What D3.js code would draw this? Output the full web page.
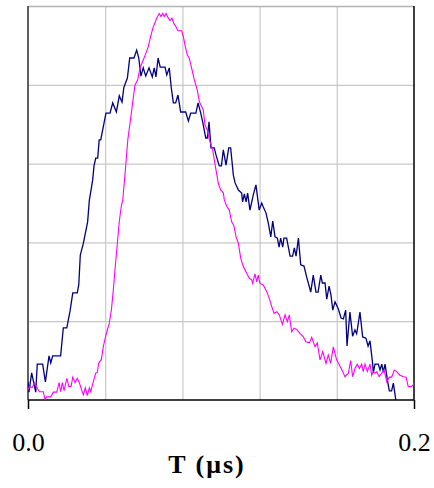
<!DOCTYPE html>
<html>
<head>
<meta charset="utf-8">
<script src="https://cdn.jsdelivr.net/npm/d3@7"></script>
<style>
  body { margin: 0; background: #fff; }
  #chart svg { display: block; }
  .grid line { stroke: #c8c8c8; stroke-width: 1.2; }
  .grid path { display: none; }
  .xaxis path { display: none; }
  .xaxis line { stroke: #000; stroke-width: 1.5; }
  .xaxis text { font-family: "Liberation Serif", serif; font-size: 26px; fill: #000; }
</style>
</head>
<body>
<div id="chart"></div>
<script>
// pulse waveforms, time in microseconds, amplitude normalised to full scale
const navyT = [0, 0.0005, 0.0019, 0.0040, 0.0048, 0.0076, 0.0090, 0.0109, 0.0118, 0.0128,
  0.0169, 0.0183, 0.0201, 0.0218, 0.0232, 0.0255, 0.0263, 0.0271, 0.0287, 0.0309,
  0.0318, 0.0325, 0.0335, 0.0342, 0.0351, 0.0361, 0.0369, 0.0377, 0.0390, 0.0404,
  0.0425, 0.0439, 0.0458, 0.0473, 0.0487, 0.0497, 0.0515, 0.0527, 0.0549, 0.0563,
  0.0574, 0.0585, 0.0597, 0.0610, 0.0627, 0.0644, 0.0654, 0.0663, 0.0674, 0.0685,
  0.0710, 0.0719, 0.0732, 0.0742, 0.0753, 0.0765, 0.0777, 0.0791, 0.0817, 0.0831,
  0.0843, 0.0870, 0.0881, 0.0895, 0.0905, 0.0921, 0.0929, 0.0938, 0.0948, 0.0965,
  0.0974, 0.0991, 0.1002, 0.1012, 0.1026, 0.1040, 0.1050, 0.1064, 0.1073, 0.1090,
  0.1107, 0.1112, 0.1121, 0.1130, 0.1138, 0.1150, 0.1167, 0.1181, 0.1198, 0.1211,
  0.1219, 0.1233, 0.1245, 0.1258, 0.1268, 0.1280, 0.1292, 0.1301, 0.1309, 0.1320,
  0.1326, 0.1340, 0.1358, 0.1371, 0.1380, 0.1389, 0.1401, 0.1413, 0.1430, 0.1444,
  0.1465, 0.1478, 0.1492, 0.1503, 0.1517, 0.1525, 0.1539, 0.1548, 0.1560, 0.1570,
  0.1579, 0.1591, 0.1608, 0.1622, 0.1634, 0.1646, 0.1653, 0.1668, 0.1682, 0.1694,
  0.1703, 0.1720, 0.1734, 0.1751, 0.1762, 0.1772, 0.1786, 0.1789, 0.1798, 0.1815,
  0.1824, 0.1833, 0.1841, 0.1850, 0.1862, 0.1872, 0.1884, 0.1893, 0.1907];
const navyV = [0.046, 0.020, 0.069, 0.020, 0.091, 0.091, 0.046, 0.112, 0.094, 0.112,
  0.112, 0.183, 0.183, 0.226, 0.272, 0.272, 0.292, 0.368, 0.398, 0.452,
  0.508, 0.528, 0.558, 0.594, 0.614, 0.614, 0.660, 0.660, 0.693, 0.728,
  0.728, 0.754, 0.731, 0.772, 0.756, 0.794, 0.817, 0.868, 0.868, 0.888,
  0.868, 0.822, 0.843, 0.822, 0.843, 0.820, 0.843, 0.820, 0.868, 0.845,
  0.845, 0.825, 0.843, 0.794, 0.754, 0.754, 0.774, 0.731, 0.731, 0.708,
  0.728, 0.728, 0.754, 0.728, 0.706, 0.665, 0.665, 0.706, 0.640, 0.640,
  0.622, 0.594, 0.594, 0.635, 0.596, 0.640, 0.640, 0.571, 0.551, 0.533,
  0.525, 0.503, 0.523, 0.503, 0.525, 0.482, 0.520, 0.546, 0.482, 0.500,
  0.490, 0.475, 0.449, 0.414, 0.454, 0.414, 0.411, 0.388, 0.411, 0.388,
  0.411, 0.411, 0.365, 0.365, 0.386, 0.365, 0.411, 0.343, 0.340, 0.312,
  0.274, 0.317, 0.274, 0.274, 0.317, 0.297, 0.297, 0.256, 0.289, 0.266,
  0.228, 0.249, 0.231, 0.208, 0.206, 0.228, 0.137, 0.223, 0.162, 0.178,
  0.168, 0.223, 0.160, 0.157, 0.137, 0.150, 0.091, 0.069, 0.091, 0.091,
  0.076, 0.091, 0.071, 0.091, 0.051, 0.023, 0.023, 0.043, -0.004];

const magT = [0, 0.0007, 0.0022, 0.0033, 0.0048, 0.0059, 0.0079, 0.0088, 0.0097, 0.0118,
  0.0131, 0.0149, 0.0161, 0.0169, 0.0178, 0.0187, 0.0201, 0.0212, 0.0223, 0.0232,
  0.0244, 0.0255, 0.0266, 0.0278, 0.0287, 0.0297, 0.0307, 0.0318, 0.0325, 0.0338,
  0.0351, 0.0359, 0.0366, 0.0380, 0.0390, 0.0404, 0.0421, 0.0432, 0.0442, 0.0452,
  0.0463, 0.0473, 0.0483, 0.0491, 0.0503, 0.0517, 0.0534, 0.0554, 0.0568, 0.0580,
  0.0594, 0.0608, 0.0623, 0.0636, 0.0649, 0.0660, 0.0670, 0.0680, 0.0689, 0.0698,
  0.0706, 0.0715, 0.0725, 0.0736, 0.0746, 0.0755, 0.0765, 0.0776, 0.0796, 0.0805,
  0.0815, 0.0825, 0.0836, 0.0848, 0.0862, 0.0877, 0.0888, 0.0900, 0.0908, 0.0917,
  0.0929, 0.0939, 0.0957, 0.0964, 0.0974, 0.0986, 0.0998, 0.1012, 0.1017, 0.1030,
  0.1043, 0.1055, 0.1067, 0.1078, 0.1090, 0.1102, 0.1116, 0.1133, 0.1147, 0.1159,
  0.1164, 0.1176, 0.1185, 0.1193, 0.1202, 0.1219, 0.1237, 0.1250, 0.1263, 0.1275,
  0.1289, 0.1302, 0.1318, 0.1332, 0.1344, 0.1354, 0.1366, 0.1378, 0.1392, 0.1409,
  0.1426, 0.1440, 0.1458, 0.1470, 0.1487, 0.1499, 0.1513, 0.1527, 0.1544, 0.1556,
  0.1568, 0.1582, 0.1599, 0.1613, 0.1631, 0.1642, 0.1660, 0.1672, 0.1682, 0.1694,
  0.1706, 0.1717, 0.1729, 0.1737, 0.1746, 0.1758, 0.1772, 0.1781, 0.1789, 0.1798,
  0.1807, 0.1819, 0.1833, 0.1845, 0.1859, 0.1872, 0.1884, 0.1898, 0.1910, 0.1927,
  0.1945, 0.1959, 0.1970, 0.1984, 0.1996, 0.2000];
const magV = [0.025, 0.034, 0.032, 0.044, 0.030, 0.021, 0.021, 0.002, 0.008, 0.008,
  0.020, 0.020, 0.044, 0.021, 0.044, 0.024, 0.055, 0.034, 0.034, 0.058,
  0.044, 0.055, 0.044, 0.025, 0.013, 0.031, 0.011, 0.031, 0.021, 0.046,
  0.068, 0.070, 0.093, 0.103, 0.135, 0.165, 0.195, 0.228, 0.279, 0.338,
  0.398, 0.453, 0.491, 0.508, 0.575, 0.660, 0.723, 0.799, 0.812, 0.842,
  0.859, 0.876, 0.897, 0.924, 0.947, 0.960, 0.973, 0.981, 0.973, 0.981,
  0.973, 0.981, 0.971, 0.963, 0.969, 0.956, 0.949, 0.937, 0.937, 0.922,
  0.897, 0.876, 0.867, 0.842, 0.812, 0.787, 0.757, 0.744, 0.736, 0.698,
  0.685, 0.662, 0.635, 0.613, 0.584, 0.550, 0.533, 0.526, 0.508, 0.491,
  0.482, 0.453, 0.442, 0.414, 0.398, 0.360, 0.338, 0.322, 0.309, 0.305,
  0.296, 0.320, 0.300, 0.317, 0.296, 0.292, 0.275, 0.258, 0.237, 0.220,
  0.224, 0.216, 0.192, 0.216, 0.199, 0.216, 0.173, 0.182, 0.179, 0.169,
  0.161, 0.148, 0.145, 0.159, 0.135, 0.145, 0.102, 0.123, 0.093, 0.114,
  0.093, 0.135, 0.102, 0.089, 0.072, 0.059, 0.068, 0.100, 0.059, 0.080,
  0.091, 0.080, 0.091, 0.072, 0.091, 0.072, 0.091, 0.063, 0.072, 0.068,
  0.072, 0.059, 0.068, 0.076, 0.046, 0.058, 0.058, 0.076, 0.072, 0.063,
  0.059, 0.058, 0.034, 0.034, 0.038, 0.044];

const xTicks = [0, 0.2];
const yGrid = [0.2, 0.4, 0.6, 0.8];
const xGrid = [0.04, 0.08, 0.12, 0.16];
const xTitle = 'T (\u03bcs)';

const margin = { top: 6, right: 20, bottom: 88, left: 28 };
const width = 434 - margin.left - margin.right;
const height = 488 - margin.top - margin.bottom;

const x = d3.scaleLinear().domain([0, 0.2]).range([0, width]);
const y = d3.scaleLinear().domain([0, 1]).range([height, 0]);

const svg = d3.select('#chart')
  .append('svg')
  .attr('width', 434)
  .attr('height', 488)
  .append('g')
  .attr('transform', `translate(${margin.left},${margin.top})`);

svg.append('defs').append('clipPath').attr('id', 'plot')
  .append('rect').attr('width', width).attr('height', height);

// grid
svg.append('g').attr('class', 'grid')
  .call(d3.axisLeft(y).tickValues(yGrid).tickSize(-width).tickFormat(''));
svg.append('g').attr('class', 'grid')
  .attr('transform', `translate(0,${height})`)
  .call(d3.axisBottom(x).tickValues(xGrid).tickSize(-height).tickFormat(''));

// frame: grey top, dark left, black right and bottom
svg.append('line').attr('x1', 0).attr('x2', width).attr('y1', 0.5).attr('y2', 0.5)
  .attr('stroke', '#b4b4b4').attr('stroke-width', 1.5);
svg.append('line').attr('x1', 0).attr('x2', 0).attr('y1', 0).attr('y2', height)
  .attr('stroke', '#505050').attr('stroke-width', 1.8);
svg.append('line').attr('x1', width).attr('x2', width).attr('y1', 0).attr('y2', height)
  .attr('stroke', '#000').attr('stroke-width', 1.5);
svg.append('line').attr('x1', 0).attr('x2', width).attr('y1', height).attr('y2', height)
  .attr('stroke', '#000').attr('stroke-width', 1.5);

// x axis
svg.append('g').attr('class', 'xaxis')
  .attr('transform', `translate(0,${height})`)
  .call(d3.axisBottom(x).tickValues(xTicks).tickSize(9).tickPadding(24).tickFormat(d3.format('.1f')));

const line = d3.line().x(d => x(d[0])).y(d => y(d[1]));

svg.append('path')
  .datum(navyT.map((t, i) => [t, navyV[i]]))
  .attr('clip-path', 'url(#plot)')
  .attr('fill', 'none').attr('stroke', '#000080').attr('stroke-width', 1.3)
  .attr('d', line);

svg.append('path')
  .datum(magT.map((t, i) => [t, magV[i]]))
  .attr('clip-path', 'url(#plot)')
  .attr('fill', 'none').attr('stroke', '#ff00ff').attr('stroke-width', 1.1)
  .attr('d', line);

svg.append('text')
  .attr('x', 179)
  .attr('y', height + 73)
  .attr('text-anchor', 'middle')
  .style('font-family', '"Liberation Serif", serif')
  .style('font-size', '26px')
  .style('font-weight', 'bold')
  .style('letter-spacing', '2px')
  .text(xTitle);
</script>
</body>
</html>
